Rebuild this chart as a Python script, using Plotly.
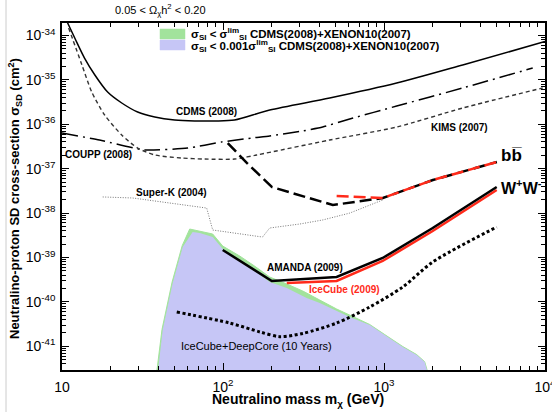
import plotly.graph_objects as go

# ---- limit curves: WIMP mass (GeV) vs SD cross-section (cm^2) ----
cdms_mass = [10.7, 12.0, 13.8, 16.0, 19.2, 23.5, 29.5, 37.7, 50.1, 66.7, 88.8, 118, 195, 460, 1199, 3082, 10000]
cdms_sigma = [2.12e-34, 8.8e-35, 3.11e-35, 1.29e-35, 5.33e-36, 3.02e-36, 1.89e-36, 1.46e-36, 1.25e-36,
              1.19e-36, 1.19e-36, 1.25e-36, 2.1e-36, 3.91e-36, 8.5e-36, 2.17e-35, 7.3e-35]

coupp_mass = [10, 17.1, 32.6, 60.4, 98.1, 150, 195, 300, 416, 612, 1199, 3082, 8387]
coupp_sigma = [6.37e-37, 4.43e-37, 2.64e-37, 2.92e-37, 4.0e-37, 4.9e-37, 5.45e-37, 6.9e-37, 8.69e-37,
               1.32e-36, 2.58e-36, 6.58e-36, 1.85e-35]

kims_mass = [11.0, 13.3, 15.3, 18.4, 23.5, 29.5, 37.7, 55.4, 77.0, 118, 162, 460, 1199, 3082, 9676]
kims_sigma = [1.48e-34, 2.17e-35, 5.34e-36, 1.62e-36, 5.74e-37, 2.92e-37, 2.04e-37, 1.74e-37,
              1.65e-37, 1.65e-37, 2.04e-37, 4.43e-37, 8.69e-37, 2.33e-36, 6.58e-36]

superk_mass = [17.9, 27.5, 79.2, 86.3, 176, 195, 300, 416, 612, 981]
superk_sigma = [2.31e-38, 2.19e-38, 1.30e-38, 4.16e-39, 2.89e-39, 4.62e-39, 5.68e-39, 7.0e-39, 1.0e-38, 1.97e-38]

amanda_bb_mass = [107, 141, 201, 300, 481, 984, 2012, 5025]
amanda_bb_sigma = [3.79e-37, 1.34e-37, 3.87e-38, 2.56e-38, 1.52e-38, 2.19e-38, 5.56e-38, 1.42e-37]

icecube_bb_mass = [508, 815, 984, 2012, 5025]
icecube_bb_sigma = [2.43e-38, 2.31e-38, 2.19e-38, 5.56e-38, 1.42e-37]

amanda_ww_mass = [99.6, 201, 508, 981, 2007, 5012]
amanda_ww_sigma = [1.48e-39, 2.96e-40, 3.64e-40, 9.75e-40, 4.62e-39, 3.87e-38]

icecube_ww_mass = [249, 508, 981, 2007, 5012]
icecube_ww_sigma = [2.67e-40, 2.96e-40, 8.34e-40, 3.95e-39, 3.31e-38]

deepcore_mass = [51.6, 110, 170, 225, 313, 508, 815, 1307, 2007, 5012]
deepcore_sigma = [5.92e-41, 3.34e-41, 2.1e-41, 1.65e-41, 1.95e-41, 3.34e-41, 7.67e-41, 2.16e-40, 7.9e-40, 4.86e-39]

# ---- neutralino model regions (upper envelope, closed along the bottom) ----
green_mass = [37.5, 41.8, 48.3, 55.8, 62.1, 71.7, 86.3, 99.6, 127, 157, 195, 249, 313, 399, 508,
              630, 815, 1010, 1307, 1596, 1789, 2020]
green_sigma = [1e-42, 2.4e-41, 2.8e-40, 1.85e-39, 4.38e-39, 3.9e-39, 3.38e-39, 1.81e-39, 1.08e-39,
               6.42e-40, 3.63e-40, 2.53e-40, 1.76e-40, 1.1e-40, 6.92e-41, 4.81e-41, 3.1e-41, 1.84e-41,
               9.9e-42, 6.5e-42, 4.5e-42, 1e-42]

blue_mass = [38.2, 42.2, 48.7, 56.2, 64.8, 71.7, 86.3, 99.6, 127, 157, 195, 249, 331, 399, 494, 612,
             815, 1010, 1307, 1596, 1789, 2007]
blue_sigma = [1e-42, 2.33e-41, 2.67e-40, 1.72e-39, 3.75e-39, 3.56e-39, 2.89e-39, 1.55e-39, 8.78e-40,
              4.97e-40, 2.81e-40, 2.06e-40, 1.22e-40, 9.45e-41, 6.57e-41, 4.57e-41, 3.02e-41, 1.79e-41,
              9.64e-42, 6.37e-42, 4.43e-42, 1e-42]

# ---- axis ticks ----
x_tick_vals = [10, 100, 1000, 10000]
x_tick_text = ["10", "10<sup>2</sup>", "10<sup>3</sup>", "10<sup>4</sup>"]
y_tick_exps = [-41, -40, -39, -38, -37, -36, -35, -34]
y_tick_vals = [10.0 ** e for e in y_tick_exps]
y_tick_text = ["10<sup>%d</sup>" % e for e in y_tick_exps]
x_minor = [k * 10.0 ** d for d in range(1, 4) for k in range(2, 10)]
y_minor = [k * 10.0 ** d for d in range(-42, -33) for k in range(2, 10)]

FONT = "Liberation Sans, Arial, Helvetica, sans-serif"
GREEN = "#a2e39c"
BLUE = "#c6c6f6"
RED = "#ff2a1a"

# plot-area geometry in page pixels (used to place text and legend)
W, H = 552, 412
L, R, T, B = 62, 7, 23, 42
PW, PH = W - L - R, H - T - B


def px(x):
    return (x - L) / PW


def py(y):
    return (H - B - y) / PH


fig = go.Figure()

fig.add_trace(go.Scatter(x=green_mass, y=green_sigma, fill="toself", fillcolor=GREEN,
                         line=dict(color=GREEN, width=1), mode="lines", hoverinfo="skip"))
fig.add_trace(go.Scatter(x=blue_mass, y=blue_sigma, fill="toself", fillcolor=BLUE,
                         line=dict(width=0, color=BLUE), mode="lines", hoverinfo="skip"))

fig.add_trace(go.Scatter(x=cdms_mass, y=cdms_sigma, mode="lines",
                         line=dict(color="black", width=1.5, shape="spline", smoothing=0.8)))
fig.add_trace(go.Scatter(x=coupp_mass, y=coupp_sigma, mode="lines",
                         line=dict(color="black", width=1.5, dash="16px,5px,2px,5px",
                                   shape="spline", smoothing=0.5)))
fig.add_trace(go.Scatter(x=kims_mass, y=kims_sigma, mode="lines",
                         line=dict(color="#333333", width=1.4, dash="4px,3px",
                                   shape="spline", smoothing=0.7)))
fig.add_trace(go.Scatter(x=superk_mass, y=superk_sigma, mode="lines",
                         line=dict(color="#777777", width=1, dash="1px,1.5px")))

fig.add_trace(go.Scatter(x=amanda_bb_mass, y=amanda_bb_sigma, mode="lines",
                         line=dict(color="black", width=2.5, dash="12px,5px")))
fig.add_trace(go.Scatter(x=icecube_bb_mass, y=icecube_bb_sigma, mode="lines",
                         line=dict(color=RED, width=2.5, dash="12px,5px")))

fig.add_trace(go.Scatter(x=icecube_ww_mass, y=icecube_ww_sigma, mode="lines",
                         line=dict(color=RED, width=2.5)))
fig.add_trace(go.Scatter(x=amanda_ww_mass, y=amanda_ww_sigma, mode="lines",
                         line=dict(color="black", width=2.5)))

fig.add_trace(go.Scatter(x=deepcore_mass, y=deepcore_sigma, mode="lines",
                         line=dict(color="black", width=3, dash="3px,2.5px",
                                   shape="spline", smoothing=0.8)))

axis_common = dict(
    type="log", showgrid=False, zeroline=False, showline=True, linecolor="black", linewidth=1.5,
    ticks="inside", ticklen=7, tickwidth=1, tickcolor="black", mirror="allticks",
    ticklabeloverflow="allow", automargin=False,
    tickfont=dict(family=FONT, size=14, color="black"),
)

fig.update_layout(
    width=W, height=H, margin=dict(l=L, r=R, t=T, b=B, autoexpand=False),
    paper_bgcolor="white", plot_bgcolor="white", showlegend=False,
    font=dict(family=FONT, color="black"),
    xaxis=dict(range=[1, 4], tickvals=x_tick_vals, ticktext=x_tick_text, ticklabelstandoff=3,
               minor=dict(tickvals=x_minor, ticks="inside", ticklen=4, tickcolor="black", showgrid=False),
               **axis_common),
    yaxis=dict(range=[-41.534, -33.718], tickvals=y_tick_vals, ticktext=y_tick_text, ticklabelstandoff=2,
               minor=dict(tickvals=y_minor, ticks="inside", ticklen=4, tickcolor="black", showgrid=False),
               **axis_common),
)

# legend swatches and entries
for (y0, y1, col) in [(29, 39, GREEN), (40, 50, BLUE)]:
    fig.add_shape(type="rect", xref="paper", yref="paper", x0=px(160), x1=px(185), y0=py(y1), y1=py(y0),
                  fillcolor=col, line=dict(color=col, width=0.5))

legend_entries = [
    (34, "<b>σ<sub>SI</sub> < σ<sup>lim</sup><sub>SI</sub> CDMS(2008)+XENON10(2007)</b>"),
    (45.5, "<b>σ<sub>SI</sub> < 0.001σ<sup>lim</sup><sub>SI</sub> CDMS(2008)+XENON10(2007)</b>"),
]

annotations = [(189, yy, txt, "left", 11.5, "black") for yy, txt in legend_entries]
annotations += [
    (206, 112, "<b>CDMS (2008)</b>", "center", 10, "black"),
    (98, 154, "<b>COUPP (2008)</b>", "center", 10, "black"),
    (459, 127, "<b>KIMS (2007)</b>", "center", 10, "black"),
    (171, 192, "<b>Super-K (2004)</b>", "center", 10, "black"),
    (305, 267, "<b>AMANDA (2009)</b>", "center", 10, "black"),
    (344, 289, "<b>IceCube (2009)</b>", "center", 10, RED),
    (256, 346, "IceCube+DeepCore (10 Years)", "center", 11, "black"),
    (511, 156, "<b>bb\u0305</b>", "center", 17, "black"),
    (521, 187, "<b>W<sup>+</sup>W<sup>-</sup></b>", "center", 16, "black"),
    (160, 10, "0.05 < Ω<sub>χ</sub>h<sup>2</sup> < 0.20", "center", 11, "black"),
    (298, 400, "<b>Neutralino mass m<sub>χ</sub> (GeV)</b>", "center", 14, "black"),
]
for (x, y, txt, anchor, size, col) in annotations:
    fig.add_annotation(x=px(x), y=py(y), xref="paper", yref="paper", text=txt, showarrow=False,
                       xanchor=anchor, yanchor="middle", font=dict(family=FONT, size=size, color=col))

fig.add_annotation(x=px(15), y=py(199), xref="paper", yref="paper", textangle=-90, showarrow=False,
                   text="<b>Neutralino-proton SD cross-section σ<sub>SD</sub> (cm<sup>2</sup>)</b>",
                   xanchor="center", yanchor="middle", font=dict(family=FONT, size=13, color="black"))

# thin frame line at the left edge of the page
fig.add_shape(type="line", xref="paper", yref="paper", x0=px(6), x1=px(6), y0=py(412), y1=py(0),
              line=dict(color="#cccccc", width=1))

fig.write_html("out.html")
